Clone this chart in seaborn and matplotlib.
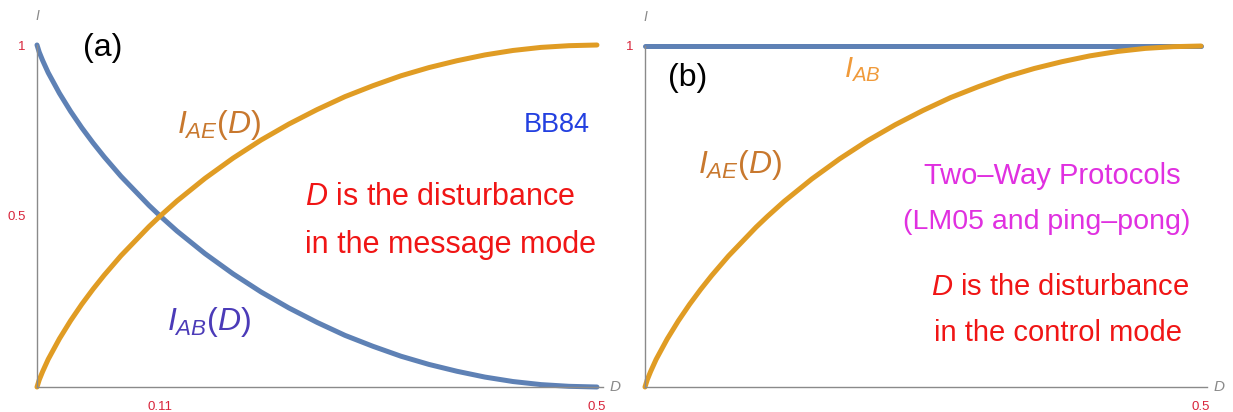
import matplotlib.pyplot as plt
import seaborn as sns
import pandas as pd

sns.set_style("white")
plt.rcParams["font.family"] = ["Liberation Sans", "DejaVu Sans"]
plt.rcParams.update({
    "mathtext.fontset": "custom",
    "mathtext.rm": "Liberation Sans",
    "mathtext.it": "Liberation Sans:italic",
})

BLUE = "#5E81B5"
ORANGE = "#E09C24"
AXIS_GRAY = "#8a8a8a"
TICK_RED = "#d8243a"

# disturbance values and mutual information
disturbance = [0, 0.002, 0.005, 0.01, 0.02, 0.03, 0.04, 0.05, 0.06, 0.075, 0.1,
               0.11, 0.125, 0.15, 0.175, 0.2, 0.225, 0.25, 0.275, 0.3, 0.325,
               0.35, 0.375, 0.4, 0.425, 0.45, 0.475, 0.5]
i_ae = [0, 0.021, 0.045, 0.081, 0.141, 0.194, 0.242, 0.286, 0.327, 0.384, 0.469,
        0.500, 0.544, 0.610, 0.669, 0.722, 0.769, 0.811, 0.849, 0.881, 0.910,
        0.934, 0.954, 0.971, 0.984, 0.993, 0.998, 1.0]
i_ab_bb84 = [1 - v for v in i_ae]

disturbance_b = [0, 0.5]
i_ab_two_way = [1, 1]

df_a = pd.DataFrame({"D": disturbance, "I_AE": i_ae, "I_AB": i_ab_bb84})
df_b = pd.DataFrame({"D": disturbance_b, "I_AB": i_ab_two_way})

fig = plt.figure(figsize=(12.33, 4.12), dpi=100)
ax_a = fig.add_axes([37 / 1233, 25 / 412, 566 / 1233, 342 / 412])
ax_b = fig.add_axes([645 / 1233, 25 / 412, 562 / 1233, 341 / 412])


def style_axes(ax, xticks, xlabels):
    ax.set_xlim(0, 0.5054)
    ax.set_ylim(0, 1.0)
    sns.despine(ax=ax)
    for side in ["left", "bottom"]:
        ax.spines[side].set_color(AXIS_GRAY)
        ax.spines[side].set_linewidth(1.0)
    ax.set_xticks(xticks)
    ax.set_xticklabels(xlabels)
    ax.tick_params(axis="both", direction="in", length=5, width=0.8,
                   color=AXIS_GRAY, labelcolor=TICK_RED, labelsize=9.5)
    ax.tick_params(axis="x", pad=10)
    ax.tick_params(axis="y", pad=8)
    ax.set_xlabel("")
    ax.set_ylabel("")
    ax.text(1.012, 0.0, "D", transform=ax.transAxes, ha="left", va="center",
            fontsize=11, style="italic", color=AXIS_GRAY)
    ax.text(0.0, 1.085, "I", transform=ax.transAxes, ha="center", va="center",
            fontsize=10, style="italic", color=AXIS_GRAY)


# panel (a): BB84
sns.lineplot(data=df_a, x="D", y="I_AB", ax=ax_a, color=BLUE, linewidth=3.6,
             clip_on=False)
sns.lineplot(data=df_a, x="D", y="I_AE", ax=ax_a, color=ORANGE, linewidth=3.6,
             clip_on=False)
style_axes(ax_a, [0.11, 0.5], ["0.11", "0.5"])
ax_a.set_yticks([0.5, 1])
ax_a.set_yticklabels(["0.5", "1"])

ax_a.text(0.059, 0.99, "(a)", fontsize=23, ha="center", va="center", color="black")
ax_a.text(0.163, 0.766, "$I_{AE}(D)$", fontsize=23, ha="center", va="center",
          color="#C8782E")
ax_a.text(0.464, 0.766, "BB84", fontsize=19.5, ha="center", va="center",
          color="#2340E0")
ax_a.text(0.360, 0.556, "$D$ is the disturbance", fontsize=22, ha="center",
          va="center", color="#F01515")
ax_a.text(0.369, 0.415, "in the message mode", fontsize=22, ha="center",
          va="center", color="#F01515")
ax_a.text(0.154, 0.19, "$I_{AB}(D)$", fontsize=23, ha="center", va="center",
          color="#4B3BB8")

# panel (b): two-way protocols
sns.lineplot(data=df_b, x="D", y="I_AB", ax=ax_b, color=BLUE, linewidth=3.6,
             clip_on=False)
sns.lineplot(data=df_a, x="D", y="I_AE", ax=ax_b, color=ORANGE, linewidth=3.6,
             clip_on=False)
style_axes(ax_b, [0.5], ["0.5"])
ax_b.set_yticks([1])
ax_b.set_yticklabels(["1"])

ax_b.text(0.0387, 0.906, "(b)", fontsize=23, ha="center", va="center", color="black")
ax_b.text(0.195, 0.93, "$I_{AB}$", fontsize=21, ha="center", va="center",
          color="#F09A3A")
ax_b.text(0.0854, 0.651, "$I_{AE}(D)$", fontsize=23, ha="center", va="center",
          color="#C8782E")
ax_b.text(0.366, 0.619, "Two\u2013Way Protocols", fontsize=21, ha="center",
          va="center", color="#E030E0")
ax_b.text(0.361, 0.484, "(LM05 and ping\u2013pong)", fontsize=20.5, ha="center",
          va="center", color="#E030E0")
ax_b.text(0.373, 0.293, "$D$ is the disturbance", fontsize=21, ha="center",
          va="center", color="#F01515")
ax_b.text(0.371, 0.158, "in the control mode", fontsize=21, ha="center",
          va="center", color="#F01515")

plt.savefig("out.png", dpi=100)
plt.close()
